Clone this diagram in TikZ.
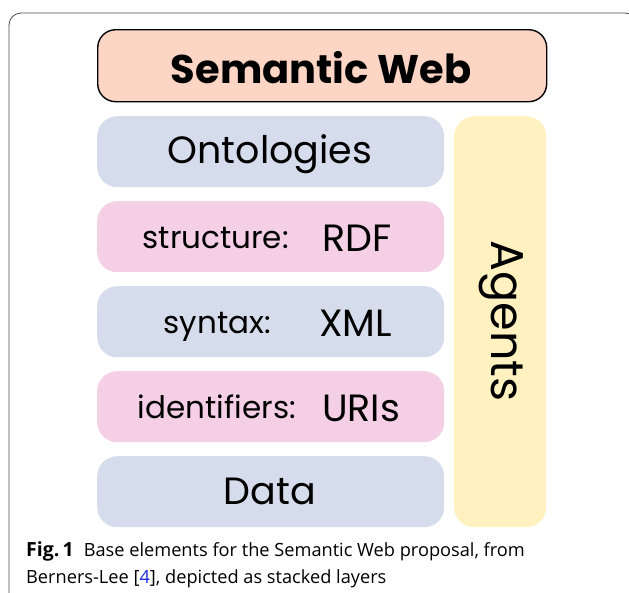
\documentclass[tikz,border=0pt]{standalone}
\usepackage{fontspec}
\setmainfont{Poppins}
\newfontfamily\capfont{Open Sans}
\definecolor{webfill}{HTML}{FCD5C5}
\definecolor{layerblue}{HTML}{D5DCEB}
\definecolor{layerpink}{HTML}{F4CFE6}
\definecolor{agentfill}{HTML}{FFF2C0}
\definecolor{linkblue}{HTML}{1F2BD8}
\begin{document}
\begin{tikzpicture}[x=1pt,y=-1pt,
  layer/.style={rounded corners=20pt,inner sep=0pt,minimum width=347pt,minimum height=71pt,anchor=north west},
  bigtxt/.style={font=\fontsize{38}{38}\selectfont,inner sep=0pt},
  smalltxt/.style={font=\fontsize{31}{31}\selectfont,inner sep=0pt},
  captxt/.style={anchor=base west,inner sep=0pt,font=\capfont\fontsize{18.2}{26}\selectfont}]
\useasboundingbox (0,0) rectangle (629,592);
% outer frame of the figure
\draw[line width=0.8pt,rounded corners=12pt,black!70] (9,600) -- (9,13) -- (637,13) -- (637,100);
% top box
\node[draw=black,line width=1.4pt,fill=webfill,rounded corners=18pt,minimum width=449pt,minimum height=72pt,anchor=north west,inner sep=0pt] (web) at (97,29) {};
\node[font=\fontsize{40}{40}\selectfont\bfseries,inner sep=0pt,anchor=base] (webtxt) at (321,83) {Semantic Web};
% stacked layers
\node[layer,fill=layerblue] (onto) at (97,116) {};
\node[layer,fill=layerpink] (rdf) at (97,201) {};
\node[layer,fill=layerblue] (xml) at (97,286) {};
\node[layer,fill=layerpink] (uri) at (97,371) {};
\node[layer,fill=layerblue] (data) at (97,456) {};
\node[bigtxt,anchor=base] (ontotxt) at (270,163) {Ontologies};
\node[bigtxt,anchor=base west] (rdftxt) at (322,251) {RDF};
\node[smalltxt,anchor=base east] (rdflab) at (289,248) {structure:};
\node[bigtxt,anchor=base west] (xmltxt) at (319,336) {XML};
\node[smalltxt,anchor=base east] (xmllab) at (271,333) {syntax:};
\node[bigtxt,anchor=base west] (uritxt) at (322,421) {URIs};
\node[smalltxt,anchor=base east] (urilab) at (296,418) {identifiers:};
\node[bigtxt,anchor=base] (datatxt) at (270,504) {Data};
% side column
\node[fill=agentfill,rounded corners=20pt,inner sep=0pt,minimum width=92pt,minimum height=411pt,anchor=north west] (agents) at (454,116) {};
\node[font=\fontsize{46}{46}\selectfont,rotate=-90,inner sep=0pt] (agtxt) at (501,321) {Agents};
% caption
\node[captxt] (cap1) at (26,556) {{\fontsize{19.5}{26}\selectfont\textbf{Fig.\,1}}\hspace{0.55em}Base elements for the Semantic Web proposal, from};
\node[captxt] (cap2) at (26,583) {Berners-Lee [\textcolor{linkblue}{4}], depicted as stacked layers};
\end{tikzpicture}
\end{document}
